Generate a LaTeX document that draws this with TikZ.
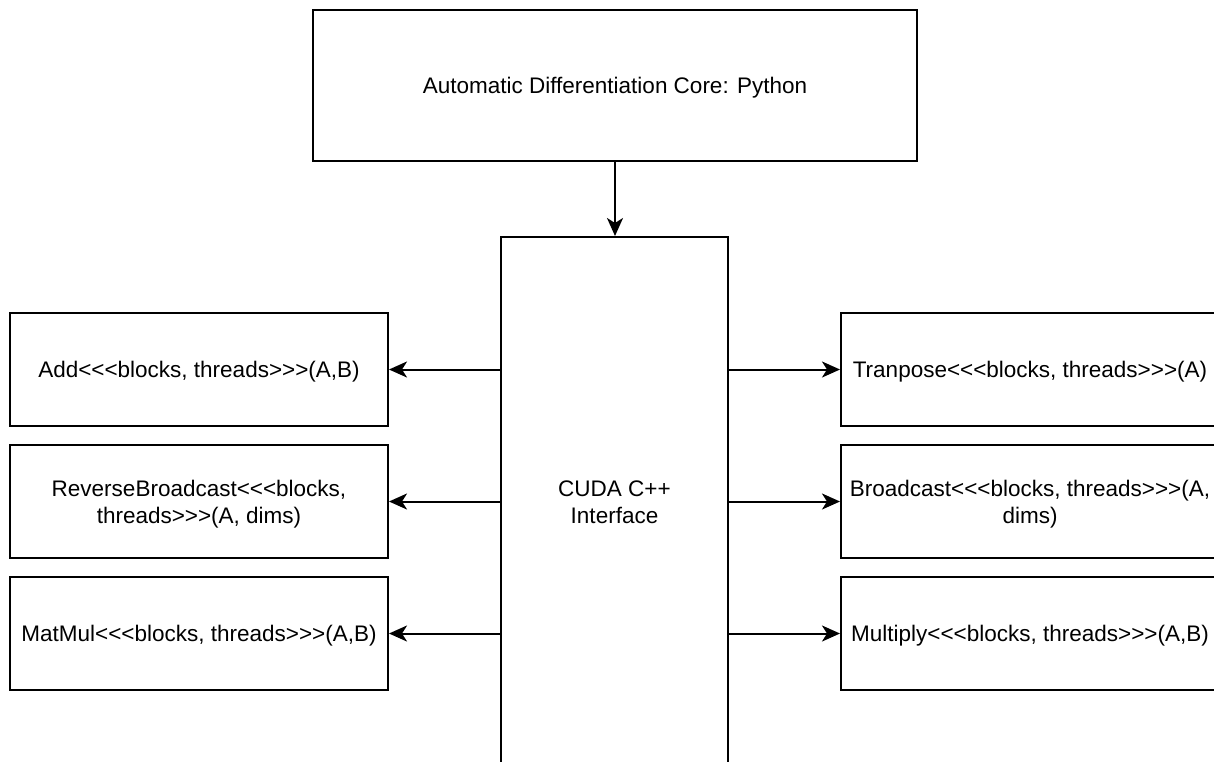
\documentclass[tikz,border=0pt]{standalone}
\usepackage{fontspec}
\setmainfont{Liberation Sans}
\usetikzlibrary{arrows.meta}
\begin{document}
\begin{tikzpicture}[x=1pt,y=-1pt,
  box/.style={draw=black, line width=2pt, fill=white, rectangle, inner sep=0pt, align=center, text depth=0pt, font=\fontsize{22.5}{27}\selectfont},
  side/.style={box, minimum width=378pt, minimum height=113pt},
  conn/.style={line width=2pt, -{Stealth[length=18pt,width=16pt,inset=5pt]}}]
\clip (0,0) rectangle (1214,761);
\fill[white] (0,0) rectangle (1214,761);
\node[box, minimum width=604pt, minimum height=151pt] (core) at (615,85.5) {Automatic Differentiation Core: Python};
\node[box, minimum width=227pt, minimum height=530pt] (cuda) at (614.5,502) {CUDA C++\\Interface};
\node[side] (l1) at (199,369.5) {Add<{}<{}<blocks, threads>{}>{}>(A,B)};
\node[side] (l2) at (199,501.5) {ReverseBroadcast<{}<{}<blocks,\\threads>{}>{}>(A, dims)};
\node[side] (l3) at (199,633.5) {MatMul<{}<{}<blocks, threads>{}>{}>(A,B)};
\node[side] (r1) at (1030,369.5) {Tranpose<{}<{}<blocks, threads>{}>{}>(A)};
\node[side] (r2) at (1030,501.5) {Broadcast<{}<{}<blocks, threads>{}>{}>(A,\\dims)};
\node[side] (r3) at (1030,633.5) {Multiply<{}<{}<blocks, threads>{}>{}>(A,B)};
\draw[conn] (core.south) -- (core.south |- cuda.north);
\foreach \n in {l1,l2,l3} {\draw[conn] (cuda.west |- \n.east) -- (\n.east);}
\foreach \n in {r1,r2,r3} {\draw[conn] (cuda.east |- \n.west) -- (\n.west);}
\end{tikzpicture}
\end{document}
